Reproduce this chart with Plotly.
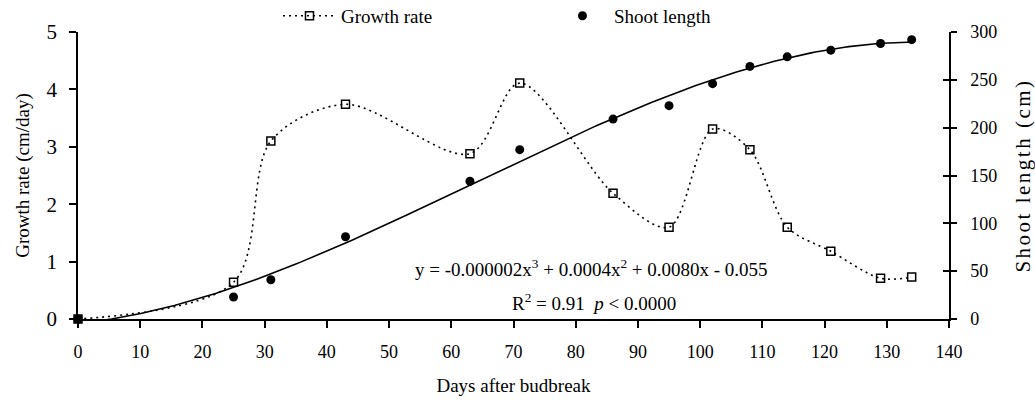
import numpy as np
import plotly.graph_objects as go

# Daily growth rate (cm/day) and measured shoot length (cm) by days after budbreak
days = [0, 25, 31, 43, 63, 71, 86, 95, 102, 108, 114, 121, 129, 134]
growth_rate = [0.0, 0.64, 3.10, 3.74, 2.88, 4.11, 2.19, 1.60, 3.31, 2.95, 1.60, 1.18, 0.71, 0.73]
shoot_length = [0, 23, 41, 86, 144, 177, 209, 223, 246, 264, 274, 281, 288, 292]

x_ticks = list(range(0, 141, 10))
left_ticks = [0, 1, 2, 3, 4, 5]
right_ticks = [0, 50, 100, 150, 200, 250, 300]

# Cubic trend fitted to the shoot length measurements
coef = np.polyfit(days, shoot_length, 3)
trend_x = np.linspace(0, max(days), 200)
trend_y = np.polyval(coef, trend_x)

FONT = "Liberation Serif"

fig = go.Figure()

fig.add_trace(go.Scatter(
    x=days, y=growth_rate, name="Growth rate", mode="lines+markers",
    line=dict(color="black", width=1.6, dash="2px,4px", shape="spline", smoothing=0.9),
    marker=dict(symbol="square-open", size=8, color="black", line=dict(width=1.5)),
    yaxis="y", cliponaxis=False,
))

fig.add_trace(go.Scatter(
    x=days, y=shoot_length, name="Shoot length", mode="markers",
    marker=dict(symbol="circle", size=9, color="black"),
    yaxis="y2", cliponaxis=False,
))

fig.add_trace(go.Scatter(
    x=trend_x, y=trend_y, mode="lines", showlegend=False,
    line=dict(color="black", width=1.6), yaxis="y3", hoverinfo="skip",
))

axis_common = dict(showgrid=False, zeroline=False, showline=True, linecolor="black",
                   linewidth=1.5, tickcolor="black", tickwidth=1.5)

fig.update_layout(
    width=1035, height=400,
    margin=dict(l=78, r=86, t=32, b=81, autoexpand=False),
    paper_bgcolor="white", plot_bgcolor="white",
    font=dict(family=FONT, size=18, color="black"),
    showlegend=True,
    legend=dict(orientation="h", x=0.2296, y=0.99, xanchor="left", yanchor="bottom",
                font=dict(family=FONT, size=19, color="black"), itemwidth=53,
                entrywidth=205, entrywidthmode="pixels", bgcolor="rgba(0,0,0,0)"),
    xaxis=dict(range=[0, 140], tickvals=x_ticks, ticks="outside", ticklen=7,
               ticklabelstandoff=9, tickfont=dict(family=FONT, size=18, color="black"),
               title=dict(text="Days after budbreak", font=dict(family=FONT, size=19), standoff=17),
               **axis_common),
    yaxis=dict(range=[0, 5], tickvals=left_ticks, ticks="outside", ticklen=7,
               ticklabelstandoff=8, tickfont=dict(family=FONT, size=21, color="black"),
               title=dict(text="Growth rate (cm/day)", font=dict(family=FONT, size=19), standoff=12),
               **axis_common),
    yaxis2=dict(range=[0, 300], tickvals=right_ticks, ticks="outside", ticklen=6,
                overlaying="y", side="right", anchor="x", ticklabelstandoff=10,
                tickfont=dict(family=FONT, size=18, color="black"),
                title=dict(text='<span style="letter-spacing:2.5px">Shoot length (cm)</span>',
                           font=dict(family=FONT, size=21), standoff=19),
                **axis_common),
    yaxis3=dict(range=[0, 300], tickvals=right_ticks, ticks="inside", ticklen=6,
                overlaying="y", side="right", anchor="x", showticklabels=False,
                showgrid=False, zeroline=False, showline=False,
                tickcolor="black", tickwidth=1.5),
)

fig.add_annotation(
    text="y = -0.000002x<sup>3</sup> + 0.0004x<sup>2</sup> + 0.0080x - 0.055",
    xref="paper", yref="paper", x=0.589, y=0.178, xanchor="center", yanchor="middle",
    showarrow=False, font=dict(family=FONT, size=19, color="black"),
)
fig.add_annotation(
    text="R<sup>2</sup> = 0.91  <i>p</i> &lt; 0.0000",
    xref="paper", yref="paper", x=0.592, y=0.059, xanchor="center", yanchor="middle",
    showarrow=False, font=dict(family=FONT, size=19, color="black"),
)

fig.write_html("out.html")
